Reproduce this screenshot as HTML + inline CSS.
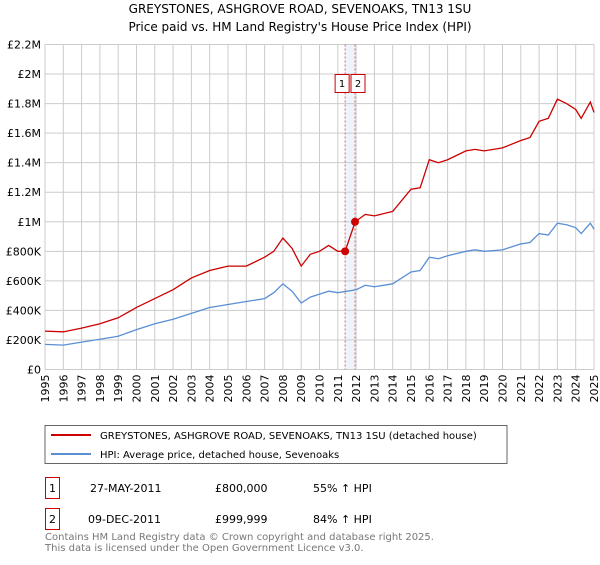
<!DOCTYPE html>
<html><head><meta charset="utf-8"><style>
body{margin:0;background:#fff;font-family:"Liberation Sans","DejaVu Sans",sans-serif;}
svg text{font-family:"DejaVu Sans","Liberation Sans",sans-serif;}
</style></head><body>
<svg id="c" width="600" height="560" viewBox="0 0 600 560">
<text x="300" y="13" font-size="12" text-anchor="middle">GREYSTONES, ASHGROVE ROAD, SEVENOAKS, TN13 1SU</text>
<text x="300" y="31" font-size="12" text-anchor="middle">Price paid vs. HM Land Registry's House Price Index (HPI)</text>
<g id="grid"></g><g id="series"></g>
<rect x="45" y="425.5" width="462" height="38" fill="none" stroke="#666"/>
<line x1="51" y1="435" x2="91" y2="435" stroke="#cc0000" stroke-width="2"/>
<text x="100" y="439" font-size="10">GREYSTONES, ASHGROVE ROAD, SEVENOAKS, TN13 1SU (detached house)</text>
<line x1="51" y1="454" x2="91" y2="454" stroke="#5b8fd4" stroke-width="2"/>
<text x="100" y="458" font-size="10">HPI: Average price, detached house, Sevenoaks</text>
<g font-size="11">
<rect x="45.5" y="477.5" width="14" height="21" fill="none" stroke="#cc0000"/>
<text x="52.5" y="492" text-anchor="middle">1</text>
<text x="90" y="492">27-MAY-2011</text><text x="215" y="492">£800,000</text><text x="313" y="492">55% ↑ HPI</text>
<rect x="45.5" y="508.5" width="14" height="21" fill="none" stroke="#cc0000"/>
<text x="52.5" y="523" text-anchor="middle">2</text>
<text x="88" y="523">09-DEC-2011</text><text x="215" y="523">£999,999</text><text x="313" y="523">84% ↑ HPI</text>
</g>
<text x="45" y="540" font-size="10" fill="#777">Contains HM Land Registry data © Crown copyright and database right 2025.</text>
<text x="45" y="551" font-size="10" fill="#777">This data is licensed under the Open Government Licence v3.0.</text>
</svg>
<script>
const yTicks=[0,200,400,600,800,1000,1200,1400,1600,1800,2000,2200];
const yTickLabels=["£0","£200K","£400K","£600K","£800K","£1M","£1.2M","£1.4M","£1.6M","£1.8M","£2M","£2.2M"];
const xYears=[1995,1996,1997,1998,1999,2000,2001,2002,2003,2004,2005,2006,2007,2008,2009,2010,2011,2012,2013,2014,2015,2016,2017,2018,2019,2020,2021,2022,2023,2024,2025];
const hpiT=[1995,1996,1997,1998,1999,2000,2001,2002,2003,2004,2005,2006,2007,2007.5,2008,2008.5,2009,2009.5,2010,2010.5,2011,2012,2012.5,2013,2014,2015,2015.5,2016,2016.5,2017,2018,2018.5,2019,2020,2021,2021.5,2022,2022.5,2023,2023.5,2024,2024.3,2024.8,2025];
const hpiV=[170,165,185,205,225,270,310,340,380,420,440,460,480,520,580,530,450,490,510,530,520,540,570,560,580,660,670,760,750,770,800,810,800,810,850,860,920,910,990,980,960,920,990,950];
const propT=[1995,1996,1997,1998,1999,2000,2001,2002,2003,2004,2005,2006,2007,2007.5,2008,2008.5,2009,2009.5,2010,2010.5,2011,2011.4,2011.95,2012.5,2013,2014,2015,2015.5,2016,2016.5,2017,2018,2018.5,2019,2020,2021,2021.5,2022,2022.5,2023,2023.5,2024,2024.3,2024.8,2025];
const propV=[260,255,280,310,350,420,480,540,620,670,700,700,760,800,890,820,700,780,800,840,800,800,1000,1050,1040,1070,1220,1230,1420,1400,1420,1480,1490,1480,1500,1550,1570,1680,1700,1830,1800,1760,1700,1810,1740];
const saleT=[2011.4,2011.94];
const saleV=[800,1000];
const X0=45,X1=594,Y0=369.5,Y1=44.5;
const xs=t=>X0+(t-1995)/30*(X1-X0);
const ys=v=>Y0-v/2200*(Y0-Y1);
const NS="http://www.w3.org/2000/svg";
function mk(tag,attrs,parent){const e=document.createElementNS(NS,tag);for(const k in attrs)e.setAttribute(k,attrs[k]);parent.appendChild(e);return e;}
const g=document.getElementById('grid'),s=document.getElementById('series');
const band=mk('rect',{x:xs(saleT[0]),y:Y1,width:xs(saleT[1])-xs(saleT[0]),height:Y0-Y1,fill:'#eef4fc'},g);


yTicks.forEach((v,i)=>{
 const l=mk('line',{x1:X0,x2:X1,y1:ys(v),y2:ys(v),stroke:'#ccc'},g);
 
 
 const t=mk('text',{x:X0-4,y:ys(v)+4,'font-size':11,'text-anchor':'end'},g);t.textContent=yTickLabels[i];
 
 
});
xYears.forEach(y=>{
 const l=mk('line',{x1:xs(y),x2:xs(y),y1:Y1,y2:Y0,stroke:'#ccc'},g);
 
 
 const t=mk('text',{x:0,y:0,'font-size':11,'text-anchor':'end',transform:`translate(${xs(y)+4},${Y0+5}) rotate(-90)`},g);t.textContent=y;
 
 
});
saleT.forEach((t,i)=>{
 const l=mk('line',{x1:xs(t),x2:xs(t),y1:Y1,y2:Y0,stroke:'#e06060','stroke-dasharray':'2,2'},s);
 
 
 const bx=i==0?xs(t)-10:xs(t)-4;
 const r=mk('rect',{x:bx,y:74.5,width:14,height:18,fill:'#fff',stroke:'#cc0000'},s);
 
 
 const tx=mk('text',{x:bx+7,y:87,'font-size':10,'text-anchor':'middle'},s);tx.textContent=String(i+1);
 
 
});
const hp=mk('polyline',{points:hpiT.map((t,i)=>xs(t)+','+ys(hpiV[i])).join(' '),fill:'none',stroke:'#5b8fd4','stroke-width':1.3},s);


const pp=mk('polyline',{points:propT.map((t,i)=>xs(t)+','+ys(propV[i])).join(' '),fill:'none',stroke:'#cc0000','stroke-width':1.3},s);


saleT.forEach((t,i)=>{
 const c=mk('circle',{cx:xs(t),cy:ys(saleV[i]),r:4,fill:'#cc0000'},s);
 
 
});
</script>
</body></html>
